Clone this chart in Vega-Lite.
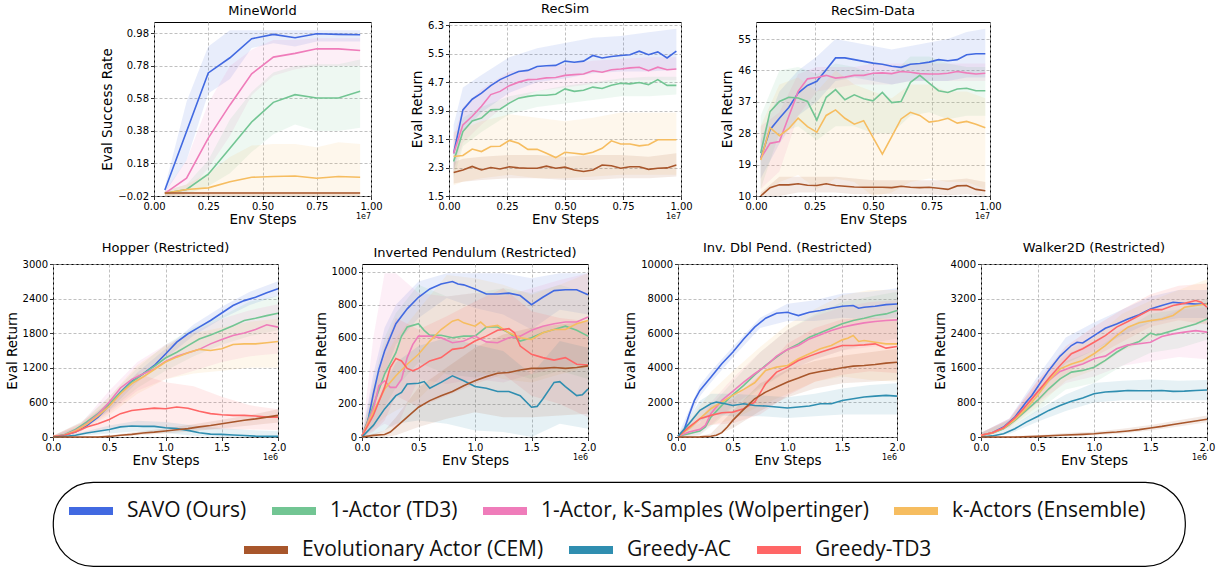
{
"$schema":"https://vega.github.io/schema/vega-lite/v6.json",
"padding":{"left":4,"top":2,"right":5,"bottom":5},
"datasets":{
"mw":[
{"m":"S","x":0.05,"y":0.017},{"m":"S","x":0.15,"y":0.377},{"m":"S","x":0.25,"y":0.737},{"m":"S","x":0.35,"y":0.83},{"m":"S","x":0.45,"y":0.947},{"m":"S","x":0.55,"y":0.974},{"m":"S","x":0.65,"y":0.953},{"m":"S","x":0.75,"y":0.978},{"m":"S","x":0.85,"y":0.974},{"m":"S","x":0.95,"y":0.972},
{"m":"T","x":0.05,"y":-0.004},{"m":"T","x":0.15,"y":0.02},{"m":"T","x":0.25,"y":0.114},{"m":"T","x":0.35,"y":0.274},{"m":"T","x":0.45,"y":0.435},{"m":"T","x":0.55,"y":0.556},{"m":"T","x":0.65,"y":0.603},{"m":"T","x":0.75,"y":0.583},{"m":"T","x":0.85,"y":0.583},{"m":"T","x":0.95,"y":0.624},
{"m":"W","x":0.05,"y":-0.004},{"m":"W","x":0.15,"y":0.09},{"m":"W","x":0.25,"y":0.336},{"m":"W","x":0.35,"y":0.54},{"m":"W","x":0.45,"y":0.731},{"m":"W","x":0.55,"y":0.834},{"m":"W","x":0.65,"y":0.857},{"m":"W","x":0.75,"y":0.885},{"m":"W","x":0.85,"y":0.885},{"m":"W","x":0.95,"y":0.875},
{"m":"E","x":0.05,"y":-0.004},{"m":"E","x":0.15,"y":0.02},{"m":"E","x":0.25,"y":0.03},{"m":"E","x":0.35,"y":0.068},{"m":"E","x":0.45,"y":0.095},{"m":"E","x":0.55,"y":0.1},{"m":"E","x":0.65,"y":0.103},{"m":"E","x":0.75,"y":0.089},{"m":"E","x":0.85,"y":0.1},{"m":"E","x":0.95,"y":0.095},
{"m":"C","x":0.05,"y":-0.002},{"m":"C","x":0.15,"y":-0.002},{"m":"C","x":0.25,"y":-0.002},{"m":"C","x":0.35,"y":-0.002},{"m":"C","x":0.45,"y":-0.002},{"m":"C","x":0.55,"y":-0.002},{"m":"C","x":0.65,"y":-0.002},{"m":"C","x":0.75,"y":-0.002},{"m":"C","x":0.85,"y":-0.002},{"m":"C","x":0.95,"y":-0.002}
],
"mwb":[
{"m":"S","x":0.05,"lo":0.0,"hi":0.035},{"m":"S","x":0.15,"lo":0.2,"hi":0.56},{"m":"S","x":0.25,"lo":0.61,"hi":0.9},{"m":"S","x":0.35,"lo":0.7,"hi":1.0},{"m":"S","x":0.45,"lo":0.89,"hi":1.0},{"m":"S","x":0.55,"lo":0.92,"hi":1.0},{"m":"S","x":0.65,"lo":0.9,"hi":1.0},{"m":"S","x":0.75,"lo":0.93,"hi":1.0},{"m":"S","x":0.85,"lo":0.93,"hi":1.0},{"m":"S","x":0.95,"lo":0.93,"hi":1.0},
{"m":"W","x":0.05,"lo":-0.02,"hi":0.01},{"m":"W","x":0.15,"lo":0.0,"hi":0.2},{"m":"W","x":0.25,"lo":0.15,"hi":0.55},{"m":"W","x":0.35,"lo":0.35,"hi":0.78},{"m":"W","x":0.45,"lo":0.6,"hi":0.88},{"m":"W","x":0.55,"lo":0.72,"hi":0.94},{"m":"W","x":0.65,"lo":0.76,"hi":0.94},{"m":"W","x":0.75,"lo":0.78,"hi":0.95},{"m":"W","x":0.85,"lo":0.78,"hi":0.95},{"m":"W","x":0.95,"lo":0.78,"hi":0.95},
{"m":"T","x":0.05,"lo":-0.02,"hi":0.01},{"m":"T","x":0.15,"lo":-0.01,"hi":0.05},{"m":"T","x":0.25,"lo":0.04,"hi":0.2},{"m":"T","x":0.35,"lo":0.12,"hi":0.45},{"m":"T","x":0.45,"lo":0.25,"hi":0.62},{"m":"T","x":0.55,"lo":0.36,"hi":0.74},{"m":"T","x":0.65,"lo":0.42,"hi":0.78},{"m":"T","x":0.75,"lo":0.38,"hi":0.79},{"m":"T","x":0.85,"lo":0.38,"hi":0.79},{"m":"T","x":0.95,"lo":0.4,"hi":0.82},
{"m":"E","x":0.05,"lo":-0.02,"hi":0.01},{"m":"E","x":0.15,"lo":-0.02,"hi":0.05},{"m":"E","x":0.25,"lo":-0.02,"hi":0.12},{"m":"E","x":0.35,"lo":-0.02,"hi":0.22},{"m":"E","x":0.45,"lo":-0.02,"hi":0.29},{"m":"E","x":0.55,"lo":-0.02,"hi":0.3},{"m":"E","x":0.65,"lo":-0.02,"hi":0.3},{"m":"E","x":0.75,"lo":-0.02,"hi":0.28},{"m":"E","x":0.85,"lo":-0.02,"hi":0.31},{"m":"E","x":0.95,"lo":-0.02,"hi":0.3},
{"m":"C","x":0.05,"lo":-0.02,"hi":0.005},{"m":"C","x":0.95,"lo":-0.02,"hi":0.005}
],
"rs":[
{"m":"S","x":0.02,"y":2.70},{"m":"S","x":0.06,"y":3.92},{"m":"S","x":0.1,"y":4.22},{"m":"S","x":0.14,"y":4.39},{"m":"S","x":0.18,"y":4.60},{"m":"S","x":0.22,"y":4.77},{"m":"S","x":0.26,"y":4.89},{"m":"S","x":0.3,"y":5.00},{"m":"S","x":0.34,"y":5.03},{"m":"S","x":0.38,"y":5.14},{"m":"S","x":0.42,"y":5.16},{"m":"S","x":0.46,"y":5.17},{"m":"S","x":0.5,"y":5.29},{"m":"S","x":0.54,"y":5.26},{"m":"S","x":0.58,"y":5.29},{"m":"S","x":0.62,"y":5.45},{"m":"S","x":0.66,"y":5.38},{"m":"S","x":0.7,"y":5.42},{"m":"S","x":0.74,"y":5.45},{"m":"S","x":0.78,"y":5.47},{"m":"S","x":0.82,"y":5.57},{"m":"S","x":0.86,"y":5.47},{"m":"S","x":0.9,"y":5.55},{"m":"S","x":0.94,"y":5.38},{"m":"S","x":0.98,"y":5.57},
{"m":"W","x":0.02,"y":2.70},{"m":"W","x":0.06,"y":3.50},{"m":"W","x":0.1,"y":3.74},{"m":"W","x":0.14,"y":4.02},{"m":"W","x":0.18,"y":4.35},{"m":"W","x":0.22,"y":4.44},{"m":"W","x":0.26,"y":4.60},{"m":"W","x":0.3,"y":4.70},{"m":"W","x":0.34,"y":4.77},{"m":"W","x":0.38,"y":4.78},{"m":"W","x":0.42,"y":4.82},{"m":"W","x":0.46,"y":4.83},{"m":"W","x":0.5,"y":4.89},{"m":"W","x":0.54,"y":4.91},{"m":"W","x":0.58,"y":4.93},{"m":"W","x":0.62,"y":5.02},{"m":"W","x":0.66,"y":4.98},{"m":"W","x":0.7,"y":5.05},{"m":"W","x":0.74,"y":5.07},{"m":"W","x":0.78,"y":5.10},{"m":"W","x":0.82,"y":5.12},{"m":"W","x":0.86,"y":5.02},{"m":"W","x":0.9,"y":5.12},{"m":"W","x":0.94,"y":5.05},{"m":"W","x":0.98,"y":5.07},
{"m":"T","x":0.02,"y":2.47},{"m":"T","x":0.06,"y":3.31},{"m":"T","x":0.1,"y":3.61},{"m":"T","x":0.14,"y":3.69},{"m":"T","x":0.18,"y":3.92},{"m":"T","x":0.22,"y":3.94},{"m":"T","x":0.26,"y":4.11},{"m":"T","x":0.3,"y":4.25},{"m":"T","x":0.34,"y":4.30},{"m":"T","x":0.38,"y":4.33},{"m":"T","x":0.42,"y":4.33},{"m":"T","x":0.46,"y":4.36},{"m":"T","x":0.5,"y":4.51},{"m":"T","x":0.54,"y":4.44},{"m":"T","x":0.58,"y":4.47},{"m":"T","x":0.62,"y":4.56},{"m":"T","x":0.66,"y":4.52},{"m":"T","x":0.7,"y":4.61},{"m":"T","x":0.74,"y":4.67},{"m":"T","x":0.78,"y":4.65},{"m":"T","x":0.82,"y":4.69},{"m":"T","x":0.86,"y":4.63},{"m":"T","x":0.9,"y":4.77},{"m":"T","x":0.94,"y":4.61},{"m":"T","x":0.98,"y":4.61},
{"m":"E","x":0.02,"y":2.61},{"m":"E","x":0.06,"y":2.64},{"m":"E","x":0.1,"y":2.82},{"m":"E","x":0.14,"y":2.75},{"m":"E","x":0.18,"y":2.89},{"m":"E","x":0.22,"y":2.90},{"m":"E","x":0.26,"y":3.06},{"m":"E","x":0.3,"y":2.98},{"m":"E","x":0.34,"y":2.81},{"m":"E","x":0.38,"y":2.81},{"m":"E","x":0.42,"y":2.70},{"m":"E","x":0.46,"y":2.58},{"m":"E","x":0.5,"y":2.73},{"m":"E","x":0.54,"y":2.70},{"m":"E","x":0.58,"y":2.67},{"m":"E","x":0.62,"y":2.73},{"m":"E","x":0.66,"y":2.84},{"m":"E","x":0.7,"y":3.05},{"m":"E","x":0.74,"y":2.96},{"m":"E","x":0.78,"y":2.96},{"m":"E","x":0.82,"y":2.91},{"m":"E","x":0.86,"y":2.94},{"m":"E","x":0.9,"y":3.08},{"m":"E","x":0.94,"y":3.08},{"m":"E","x":0.98,"y":3.08},
{"m":"C","x":0.02,"y":2.16},{"m":"C","x":0.06,"y":2.23},{"m":"C","x":0.1,"y":2.33},{"m":"C","x":0.14,"y":2.23},{"m":"C","x":0.18,"y":2.30},{"m":"C","x":0.22,"y":2.26},{"m":"C","x":0.26,"y":2.32},{"m":"C","x":0.3,"y":2.29},{"m":"C","x":0.34,"y":2.28},{"m":"C","x":0.38,"y":2.28},{"m":"C","x":0.42,"y":2.34},{"m":"C","x":0.46,"y":2.28},{"m":"C","x":0.5,"y":2.31},{"m":"C","x":0.54,"y":2.23},{"m":"C","x":0.58,"y":2.19},{"m":"C","x":0.62,"y":2.23},{"m":"C","x":0.66,"y":2.37},{"m":"C","x":0.7,"y":2.35},{"m":"C","x":0.74,"y":2.28},{"m":"C","x":0.78,"y":2.32},{"m":"C","x":0.82,"y":2.32},{"m":"C","x":0.86,"y":2.25},{"m":"C","x":0.9,"y":2.28},{"m":"C","x":0.94,"y":2.29},{"m":"C","x":0.98,"y":2.37}
],
"rsb":[
{"m":"S","x":0.02,"lo":2.2,"hi":3.5},{"m":"S","x":0.06,"lo":3.3,"hi":4.55},{"m":"S","x":0.14,"lo":3.85,"hi":4.9},{"m":"S","x":0.26,"lo":4.4,"hi":5.4},{"m":"S","x":0.38,"lo":4.7,"hi":5.65},{"m":"S","x":0.5,"lo":4.8,"hi":5.8},{"m":"S","x":0.62,"lo":4.95,"hi":5.95},{"m":"S","x":0.74,"lo":5.0,"hi":6.0},{"m":"S","x":0.86,"lo":5.0,"hi":6.1},{"m":"S","x":0.98,"lo":5.05,"hi":6.2},
{"m":"W","x":0.02,"lo":2.2,"hi":3.2},{"m":"W","x":0.06,"lo":3.0,"hi":4.0},{"m":"W","x":0.14,"lo":3.5,"hi":4.5},{"m":"W","x":0.26,"lo":4.15,"hi":5.0},{"m":"W","x":0.38,"lo":4.45,"hi":5.1},{"m":"W","x":0.5,"lo":4.55,"hi":5.2},{"m":"W","x":0.62,"lo":4.65,"hi":5.3},{"m":"W","x":0.74,"lo":4.75,"hi":5.35},{"m":"W","x":0.86,"lo":4.75,"hi":5.4},{"m":"W","x":0.98,"lo":4.75,"hi":5.4},
{"m":"T","x":0.02,"lo":2.0,"hi":2.9},{"m":"T","x":0.06,"lo":2.9,"hi":3.7},{"m":"T","x":0.14,"lo":3.3,"hi":4.0},{"m":"T","x":0.26,"lo":3.8,"hi":4.3},{"m":"T","x":0.38,"lo":4.0,"hi":4.45},{"m":"T","x":0.5,"lo":4.1,"hi":4.6},{"m":"T","x":0.62,"lo":4.2,"hi":4.7},{"m":"T","x":0.74,"lo":4.3,"hi":4.8},{"m":"T","x":0.86,"lo":4.3,"hi":4.85},{"m":"T","x":0.98,"lo":4.35,"hi":4.85},
{"m":"E","x":0.02,"lo":1.8,"hi":3.3},{"m":"E","x":0.06,"lo":1.9,"hi":3.4},{"m":"E","x":0.14,"lo":2.0,"hi":3.6},{"m":"E","x":0.26,"lo":2.1,"hi":3.8},{"m":"E","x":0.38,"lo":2.0,"hi":3.7},{"m":"E","x":0.5,"lo":2.0,"hi":3.6},{"m":"E","x":0.62,"lo":2.05,"hi":3.7},{"m":"E","x":0.74,"lo":2.1,"hi":3.85},{"m":"E","x":0.86,"lo":2.1,"hi":3.85},{"m":"E","x":0.98,"lo":2.1,"hi":3.85},
{"m":"C","x":0.02,"lo":1.85,"hi":2.45},{"m":"C","x":0.06,"lo":1.9,"hi":2.55},{"m":"C","x":0.14,"lo":1.95,"hi":2.6},{"m":"C","x":0.26,"lo":2.0,"hi":2.65},{"m":"C","x":0.38,"lo":2.0,"hi":2.65},{"m":"C","x":0.5,"lo":1.95,"hi":2.6},{"m":"C","x":0.62,"lo":1.95,"hi":2.65},{"m":"C","x":0.74,"lo":2.0,"hi":2.65},{"m":"C","x":0.86,"lo":2.0,"hi":2.6},{"m":"C","x":0.98,"lo":2.05,"hi":2.7}
],
"rd":[
{"m":"S","x":0.02,"y":20.8},{"m":"S","x":0.06,"y":29.0},{"m":"S","x":0.1,"y":32.3},{"m":"S","x":0.14,"y":35.4},{"m":"S","x":0.18,"y":39.5},{"m":"S","x":0.22,"y":41.7},{"m":"S","x":0.26,"y":42.9},{"m":"S","x":0.3,"y":46.2},{"m":"S","x":0.34,"y":49.6},{"m":"S","x":0.38,"y":49.6},{"m":"S","x":0.42,"y":49.1},{"m":"S","x":0.46,"y":48.6},{"m":"S","x":0.5,"y":48.1},{"m":"S","x":0.54,"y":47.8},{"m":"S","x":0.58,"y":47.2},{"m":"S","x":0.62,"y":46.9},{"m":"S","x":0.66,"y":47.8},{"m":"S","x":0.7,"y":48.0},{"m":"S","x":0.74,"y":48.4},{"m":"S","x":0.78,"y":49.1},{"m":"S","x":0.82,"y":48.8},{"m":"S","x":0.86,"y":49.1},{"m":"S","x":0.9,"y":50.5},{"m":"S","x":0.94,"y":50.8},{"m":"S","x":0.98,"y":50.8},
{"m":"W","x":0.02,"y":20.8},{"m":"W","x":0.06,"y":25.1},{"m":"W","x":0.1,"y":25.6},{"m":"W","x":0.14,"y":32.8},{"m":"W","x":0.18,"y":40.0},{"m":"W","x":0.22,"y":43.6},{"m":"W","x":0.26,"y":44.0},{"m":"W","x":0.3,"y":44.6},{"m":"W","x":0.34,"y":43.8},{"m":"W","x":0.38,"y":44.1},{"m":"W","x":0.42,"y":44.6},{"m":"W","x":0.46,"y":44.6},{"m":"W","x":0.5,"y":45.2},{"m":"W","x":0.54,"y":45.3},{"m":"W","x":0.58,"y":45.1},{"m":"W","x":0.62,"y":45.7},{"m":"W","x":0.66,"y":45.5},{"m":"W","x":0.7,"y":45.1},{"m":"W","x":0.74,"y":45.0},{"m":"W","x":0.78,"y":45.0},{"m":"W","x":0.82,"y":45.2},{"m":"W","x":0.86,"y":45.7},{"m":"W","x":0.9,"y":45.3},{"m":"W","x":0.94,"y":45.0},{"m":"W","x":0.98,"y":45.2},
{"m":"T","x":0.02,"y":22.3},{"m":"T","x":0.06,"y":34.2},{"m":"T","x":0.1,"y":37.1},{"m":"T","x":0.14,"y":38.3},{"m":"T","x":0.18,"y":38.1},{"m":"T","x":0.22,"y":37.1},{"m":"T","x":0.26,"y":31.8},{"m":"T","x":0.3,"y":38.3},{"m":"T","x":0.34,"y":40.5},{"m":"T","x":0.38,"y":37.6},{"m":"T","x":0.42,"y":39.0},{"m":"T","x":0.46,"y":37.9},{"m":"T","x":0.5,"y":37.3},{"m":"T","x":0.54,"y":39.7},{"m":"T","x":0.58,"y":36.8},{"m":"T","x":0.62,"y":37.1},{"m":"T","x":0.66,"y":42.6},{"m":"T","x":0.7,"y":44.6},{"m":"T","x":0.74,"y":42.4},{"m":"T","x":0.78,"y":40.2},{"m":"T","x":0.82,"y":39.7},{"m":"T","x":0.86,"y":40.7},{"m":"T","x":0.9,"y":40.9},{"m":"T","x":0.94,"y":40.2},{"m":"T","x":0.98,"y":40.2},
{"m":"E","x":0.02,"y":20.3},{"m":"E","x":0.06,"y":29.6},{"m":"E","x":0.1,"y":27.3},{"m":"E","x":0.14,"y":29.3},{"m":"E","x":0.18,"y":32.3},{"m":"E","x":0.22,"y":29.9},{"m":"E","x":0.26,"y":28.3},{"m":"E","x":0.3,"y":33.1},{"m":"E","x":0.34,"y":34.7},{"m":"E","x":0.38,"y":32.3},{"m":"E","x":0.42,"y":30.6},{"m":"E","x":0.46,"y":31.6},{"m":"E","x":0.5,"y":26.8},{"m":"E","x":0.54,"y":22.0},{"m":"E","x":0.58,"y":27.0},{"m":"E","x":0.62,"y":32.1},{"m":"E","x":0.66,"y":34.0},{"m":"E","x":0.7,"y":33.1},{"m":"E","x":0.74,"y":31.2},{"m":"E","x":0.78,"y":31.6},{"m":"E","x":0.82,"y":32.3},{"m":"E","x":0.86,"y":30.9},{"m":"E","x":0.9,"y":31.4},{"m":"E","x":0.94,"y":30.6},{"m":"E","x":0.98,"y":29.6},
{"m":"C","x":0.02,"y":10.0},{"m":"C","x":0.06,"y":12.4},{"m":"C","x":0.1,"y":13.2},{"m":"C","x":0.14,"y":13.2},{"m":"C","x":0.18,"y":13.5},{"m":"C","x":0.22,"y":13.1},{"m":"C","x":0.26,"y":13.0},{"m":"C","x":0.3,"y":13.5},{"m":"C","x":0.34,"y":13.0},{"m":"C","x":0.38,"y":12.8},{"m":"C","x":0.42,"y":12.6},{"m":"C","x":0.46,"y":12.5},{"m":"C","x":0.5,"y":12.5},{"m":"C","x":0.54,"y":12.5},{"m":"C","x":0.58,"y":12.4},{"m":"C","x":0.62,"y":12.8},{"m":"C","x":0.66,"y":12.5},{"m":"C","x":0.7,"y":12.4},{"m":"C","x":0.74,"y":12.5},{"m":"C","x":0.78,"y":12.2},{"m":"C","x":0.82,"y":11.9},{"m":"C","x":0.86,"y":12.9},{"m":"C","x":0.9,"y":13.0},{"m":"C","x":0.94,"y":11.9},{"m":"C","x":0.98,"y":11.5}
],
"rdb":[
{"m":"S","x":0.02,"lo":15,"hi":26},{"m":"S","x":0.1,"lo":25,"hi":40},{"m":"S","x":0.18,"lo":33,"hi":46},{"m":"S","x":0.26,"lo":37,"hi":50},{"m":"S","x":0.34,"lo":43,"hi":55},{"m":"S","x":0.42,"lo":44,"hi":54},{"m":"S","x":0.5,"lo":43,"hi":53},{"m":"S","x":0.58,"lo":42,"hi":52},{"m":"S","x":0.66,"lo":43,"hi":53},{"m":"S","x":0.74,"lo":43,"hi":54},{"m":"S","x":0.82,"lo":43,"hi":55},{"m":"S","x":0.9,"lo":44,"hi":57},{"m":"S","x":0.98,"lo":44,"hi":58},
{"m":"W","x":0.02,"lo":12,"hi":30},{"m":"W","x":0.1,"lo":17,"hi":34},{"m":"W","x":0.18,"lo":33,"hi":45},{"m":"W","x":0.26,"lo":40,"hi":47},{"m":"W","x":0.34,"lo":41,"hi":47},{"m":"W","x":0.42,"lo":42,"hi":47},{"m":"W","x":0.5,"lo":42,"hi":48},{"m":"W","x":0.58,"lo":42,"hi":48},{"m":"W","x":0.66,"lo":43,"hi":48},{"m":"W","x":0.74,"lo":43,"hi":48},{"m":"W","x":0.82,"lo":43,"hi":48},{"m":"W","x":0.9,"lo":43,"hi":48},{"m":"W","x":0.98,"lo":43,"hi":48},
{"m":"T","x":0.02,"lo":12,"hi":33},{"m":"T","x":0.1,"lo":28,"hi":46},{"m":"T","x":0.18,"lo":30,"hi":47},{"m":"T","x":0.26,"lo":26,"hi":45},{"m":"T","x":0.34,"lo":30,"hi":48},{"m":"T","x":0.42,"lo":30,"hi":47},{"m":"T","x":0.5,"lo":28,"hi":45},{"m":"T","x":0.58,"lo":28,"hi":45},{"m":"T","x":0.66,"lo":33,"hi":50},{"m":"T","x":0.74,"lo":34,"hi":50},{"m":"T","x":0.82,"lo":32,"hi":48},{"m":"T","x":0.9,"lo":33,"hi":47},{"m":"T","x":0.98,"lo":33,"hi":47},
{"m":"E","x":0.02,"lo":10,"hi":30},{"m":"E","x":0.1,"lo":14,"hi":42},{"m":"E","x":0.18,"lo":16,"hi":44},{"m":"E","x":0.26,"lo":12,"hi":40},{"m":"E","x":0.34,"lo":15,"hi":46},{"m":"E","x":0.42,"lo":14,"hi":42},{"m":"E","x":0.5,"lo":10,"hi":40},{"m":"E","x":0.58,"lo":11,"hi":38},{"m":"E","x":0.66,"lo":14,"hi":42},{"m":"E","x":0.74,"lo":15,"hi":42},{"m":"E","x":0.82,"lo":14,"hi":40},{"m":"E","x":0.9,"lo":14,"hi":40},{"m":"E","x":0.98,"lo":12,"hi":38},
{"m":"C","x":0.02,"lo":10,"hi":11},{"m":"C","x":0.1,"lo":10,"hi":15.5},{"m":"C","x":0.18,"lo":11,"hi":15.5},{"m":"C","x":0.26,"lo":11,"hi":15.5},{"m":"C","x":0.34,"lo":11,"hi":15.5},{"m":"C","x":0.42,"lo":10.5,"hi":15},{"m":"C","x":0.5,"lo":10.5,"hi":14.5},{"m":"C","x":0.58,"lo":10.5,"hi":14.5},{"m":"C","x":0.66,"lo":10.5,"hi":14.5},{"m":"C","x":0.74,"lo":10.5,"hi":14.5},{"m":"C","x":0.82,"lo":10.2,"hi":14.5},{"m":"C","x":0.9,"lo":10.5,"hi":15},{"m":"C","x":0.98,"lo":10,"hi":14}
],
"hp":[
{"m":"S","x":0,"y":10},{"m":"S","x":0.1,"y":30},{"m":"S","x":0.2,"y":85},{"m":"S","x":0.3,"y":200},{"m":"S","x":0.4,"y":345},{"m":"S","x":0.5,"y":550},{"m":"S","x":0.6,"y":780},{"m":"S","x":0.7,"y":965},{"m":"S","x":0.8,"y":1095},{"m":"S","x":0.9,"y":1240},{"m":"S","x":1.0,"y":1440},{"m":"S","x":1.1,"y":1645},{"m":"S","x":1.2,"y":1790},{"m":"S","x":1.3,"y":1905},{"m":"S","x":1.4,"y":2020},{"m":"S","x":1.5,"y":2150},{"m":"S","x":1.6,"y":2280},{"m":"S","x":1.7,"y":2365},{"m":"S","x":1.8,"y":2425},{"m":"S","x":1.9,"y":2500},{"m":"S","x":2.0,"y":2570},
{"m":"T","x":0,"y":10},{"m":"T","x":0.1,"y":40},{"m":"T","x":0.2,"y":130},{"m":"T","x":0.3,"y":260},{"m":"T","x":0.4,"y":405},{"m":"T","x":0.5,"y":575},{"m":"T","x":0.6,"y":770},{"m":"T","x":0.7,"y":950},{"m":"T","x":0.8,"y":1095},{"m":"T","x":0.9,"y":1225},{"m":"T","x":1.0,"y":1370},{"m":"T","x":1.1,"y":1470},{"m":"T","x":1.2,"y":1585},{"m":"T","x":1.3,"y":1700},{"m":"T","x":1.4,"y":1770},{"m":"T","x":1.5,"y":1845},{"m":"T","x":1.6,"y":1930},{"m":"T","x":1.7,"y":2020},{"m":"T","x":1.8,"y":2060},{"m":"T","x":1.9,"y":2105},{"m":"T","x":2.0,"y":2145},
{"m":"W","x":0,"y":10},{"m":"W","x":0.1,"y":30},{"m":"W","x":0.2,"y":115},{"m":"W","x":0.3,"y":230},{"m":"W","x":0.4,"y":390},{"m":"W","x":0.5,"y":605},{"m":"W","x":0.6,"y":850},{"m":"W","x":0.7,"y":1000},{"m":"W","x":0.8,"y":1095},{"m":"W","x":0.9,"y":1180},{"m":"W","x":1.0,"y":1310},{"m":"W","x":1.1,"y":1400},{"m":"W","x":1.2,"y":1460},{"m":"W","x":1.3,"y":1520},{"m":"W","x":1.4,"y":1615},{"m":"W","x":1.5,"y":1690},{"m":"W","x":1.6,"y":1760},{"m":"W","x":1.7,"y":1805},{"m":"W","x":1.8,"y":1865},{"m":"W","x":1.9,"y":1945},{"m":"W","x":2.0,"y":1905},
{"m":"E","x":0,"y":10},{"m":"E","x":0.1,"y":30},{"m":"E","x":0.2,"y":105},{"m":"E","x":0.3,"y":220},{"m":"E","x":0.4,"y":365},{"m":"E","x":0.5,"y":535},{"m":"E","x":0.6,"y":750},{"m":"E","x":0.7,"y":925},{"m":"E","x":0.8,"y":1040},{"m":"E","x":0.9,"y":1170},{"m":"E","x":1.0,"y":1300},{"m":"E","x":1.1,"y":1385},{"m":"E","x":1.2,"y":1460},{"m":"E","x":1.3,"y":1520},{"m":"E","x":1.4,"y":1500},{"m":"E","x":1.5,"y":1530},{"m":"E","x":1.6,"y":1605},{"m":"E","x":1.7,"y":1615},{"m":"E","x":1.8,"y":1615},{"m":"E","x":1.9,"y":1635},{"m":"E","x":2.0,"y":1655},
{"m":"G","x":0,"y":10},{"m":"G","x":0.1,"y":30},{"m":"G","x":0.2,"y":85},{"m":"G","x":0.3,"y":175},{"m":"G","x":0.4,"y":230},{"m":"G","x":0.5,"y":305},{"m":"G","x":0.6,"y":405},{"m":"G","x":0.7,"y":460},{"m":"G","x":0.8,"y":480},{"m":"G","x":0.9,"y":500},{"m":"G","x":1.0,"y":490},{"m":"G","x":1.1,"y":520},{"m":"G","x":1.2,"y":500},{"m":"G","x":1.3,"y":445},{"m":"G","x":1.4,"y":405},{"m":"G","x":1.5,"y":385},{"m":"G","x":1.6,"y":375},{"m":"G","x":1.7,"y":375},{"m":"G","x":1.8,"y":365},{"m":"G","x":1.9,"y":345},{"m":"G","x":2.0,"y":345},
{"m":"A","x":0,"y":0},{"m":"A","x":0.1,"y":10},{"m":"A","x":0.2,"y":30},{"m":"A","x":0.3,"y":70},{"m":"A","x":0.4,"y":100},{"m":"A","x":0.5,"y":130},{"m":"A","x":0.6,"y":175},{"m":"A","x":0.7,"y":190},{"m":"A","x":0.8,"y":185},{"m":"A","x":0.9,"y":185},{"m":"A","x":1.0,"y":160},{"m":"A","x":1.1,"y":145},{"m":"A","x":1.2,"y":115},{"m":"A","x":1.3,"y":75},{"m":"A","x":1.4,"y":50},{"m":"A","x":1.5,"y":45},{"m":"A","x":1.6,"y":35},{"m":"A","x":1.7,"y":25},{"m":"A","x":1.8,"y":15},{"m":"A","x":1.9,"y":10},{"m":"A","x":2.0,"y":10},
{"m":"C","x":0,"y":0},{"m":"C","x":0.4,"y":0},{"m":"C","x":0.5,"y":10},{"m":"C","x":0.6,"y":30},{"m":"C","x":0.7,"y":45},{"m":"C","x":0.8,"y":70},{"m":"C","x":0.9,"y":85},{"m":"C","x":1.0,"y":105},{"m":"C","x":1.1,"y":125},{"m":"C","x":1.2,"y":145},{"m":"C","x":1.3,"y":175},{"m":"C","x":1.4,"y":200},{"m":"C","x":1.5,"y":230},{"m":"C","x":1.6,"y":260},{"m":"C","x":1.7,"y":290},{"m":"C","x":1.8,"y":315},{"m":"C","x":1.9,"y":345},{"m":"C","x":2.0,"y":375}
],
"hpb":[
{"m":"S","x":0,"lo":0,"hi":20},{"m":"S","x":0.25,"lo":100,"hi":190},{"m":"S","x":0.5,"lo":470,"hi":620},{"m":"S","x":0.75,"lo":950,"hi":1120},{"m":"S","x":1.0,"lo":1360,"hi":1530},{"m":"S","x":1.25,"lo":1760,"hi":1950},{"m":"S","x":1.5,"lo":2050,"hi":2260},{"m":"S","x":1.75,"lo":2290,"hi":2520},{"m":"S","x":2.0,"lo":2450,"hi":2700},
{"m":"T","x":0,"lo":0,"hi":20},{"m":"T","x":0.25,"lo":130,"hi":260},{"m":"T","x":0.5,"lo":450,"hi":700},{"m":"T","x":0.75,"lo":850,"hi":1200},{"m":"T","x":1.0,"lo":1150,"hi":1600},{"m":"T","x":1.25,"lo":1400,"hi":1900},{"m":"T","x":1.5,"lo":1600,"hi":2100},{"m":"T","x":1.75,"lo":1750,"hi":2350},{"m":"T","x":2.0,"lo":1850,"hi":2450},
{"m":"W","x":0,"lo":0,"hi":20},{"m":"W","x":0.25,"lo":110,"hi":240},{"m":"W","x":0.5,"lo":420,"hi":800},{"m":"W","x":0.75,"lo":800,"hi":1300},{"m":"W","x":1.0,"lo":1000,"hi":1600},{"m":"W","x":1.25,"lo":1150,"hi":1830},{"m":"W","x":1.5,"lo":1300,"hi":2050},{"m":"W","x":1.75,"lo":1400,"hi":2200},{"m":"W","x":2.0,"lo":1450,"hi":2300},
{"m":"E","x":0,"lo":0,"hi":20},{"m":"E","x":0.25,"lo":100,"hi":230},{"m":"E","x":0.5,"lo":380,"hi":700},{"m":"E","x":0.75,"lo":750,"hi":1250},{"m":"E","x":1.0,"lo":1000,"hi":1580},{"m":"E","x":1.25,"lo":1100,"hi":1800},{"m":"E","x":1.5,"lo":1150,"hi":1900},{"m":"E","x":1.75,"lo":1200,"hi":2000},{"m":"E","x":2.0,"lo":1200,"hi":2050},
{"m":"G","x":0,"lo":0,"hi":20},{"m":"G","x":0.25,"lo":60,"hi":250},{"m":"G","x":0.5,"lo":150,"hi":600},{"m":"G","x":0.75,"lo":200,"hi":1100},{"m":"G","x":1.0,"lo":150,"hi":950},{"m":"G","x":1.25,"lo":130,"hi":880},{"m":"G","x":1.5,"lo":130,"hi":700},{"m":"G","x":1.75,"lo":130,"hi":550},{"m":"G","x":2.0,"lo":120,"hi":480},
{"m":"A","x":0,"lo":0,"hi":10},{"m":"A","x":0.25,"lo":20,"hi":80},{"m":"A","x":0.5,"lo":60,"hi":200},{"m":"A","x":0.75,"lo":100,"hi":280},{"m":"A","x":1.0,"lo":70,"hi":260},{"m":"A","x":1.25,"lo":20,"hi":200},{"m":"A","x":1.5,"lo":0,"hi":150},{"m":"A","x":1.75,"lo":0,"hi":120},{"m":"A","x":2.0,"lo":0,"hi":100},
{"m":"C","x":0,"lo":0,"hi":5},{"m":"C","x":0.25,"lo":0,"hi":5},{"m":"C","x":0.5,"lo":0,"hi":25},{"m":"C","x":0.75,"lo":30,"hi":90},{"m":"C","x":1.0,"lo":60,"hi":150},{"m":"C","x":1.25,"lo":100,"hi":220},{"m":"C","x":1.5,"lo":150,"hi":300},{"m":"C","x":1.75,"lo":200,"hi":380},{"m":"C","x":2.0,"lo":250,"hi":480}
],
"ip":[
{"m":"S","x":0,"y":5},{"m":"S","x":0.05,"y":90},{"m":"S","x":0.1,"y":260},{"m":"S","x":0.15,"y":410},{"m":"S","x":0.2,"y":520},{"m":"S","x":0.3,"y":685},{"m":"S","x":0.4,"y":775},{"m":"S","x":0.5,"y":845},{"m":"S","x":0.6,"y":895},{"m":"S","x":0.7,"y":925},{"m":"S","x":0.8,"y":940},{"m":"S","x":0.85,"y":925},{"m":"S","x":0.9,"y":920},{"m":"S","x":1.0,"y":895},{"m":"S","x":1.1,"y":865},{"m":"S","x":1.2,"y":865},{"m":"S","x":1.3,"y":870},{"m":"S","x":1.4,"y":855},{"m":"S","x":1.5,"y":800},{"m":"S","x":1.6,"y":845},{"m":"S","x":1.7,"y":885},{"m":"S","x":1.8,"y":890},{"m":"S","x":1.9,"y":890},{"m":"S","x":2.0,"y":860},
{"m":"T","x":0,"y":5},{"m":"T","x":0.1,"y":190},{"m":"T","x":0.2,"y":380},{"m":"T","x":0.3,"y":510},{"m":"T","x":0.35,"y":610},{"m":"T","x":0.4,"y":665},{"m":"T","x":0.45,"y":675},{"m":"T","x":0.5,"y":685},{"m":"T","x":0.55,"y":645},{"m":"T","x":0.6,"y":615},{"m":"T","x":0.7,"y":615},{"m":"T","x":0.8,"y":600},{"m":"T","x":0.9,"y":610},{"m":"T","x":1.0,"y":610},{"m":"T","x":1.1,"y":665},{"m":"T","x":1.2,"y":665},{"m":"T","x":1.3,"y":630},{"m":"T","x":1.4,"y":580},{"m":"T","x":1.5,"y":600},{"m":"T","x":1.6,"y":630},{"m":"T","x":1.7,"y":650},{"m":"T","x":1.8,"y":670},{"m":"T","x":1.9,"y":645},{"m":"T","x":2.0,"y":610},
{"m":"W","x":0,"y":5},{"m":"W","x":0.1,"y":170},{"m":"W","x":0.15,"y":310},{"m":"W","x":0.2,"y":340},{"m":"W","x":0.25,"y":300},{"m":"W","x":0.3,"y":300},{"m":"W","x":0.35,"y":350},{"m":"W","x":0.4,"y":480},{"m":"W","x":0.45,"y":560},{"m":"W","x":0.5,"y":610},{"m":"W","x":0.6,"y":610},{"m":"W","x":0.7,"y":600},{"m":"W","x":0.8,"y":570},{"m":"W","x":0.9,"y":580},{"m":"W","x":1.0,"y":610},{"m":"W","x":1.1,"y":575},{"m":"W","x":1.2,"y":570},{"m":"W","x":1.3,"y":600},{"m":"W","x":1.4,"y":610},{"m":"W","x":1.5,"y":645},{"m":"W","x":1.6,"y":670},{"m":"W","x":1.7,"y":685},{"m":"W","x":1.8,"y":695},{"m":"W","x":1.9,"y":695},{"m":"W","x":2.0,"y":725},
{"m":"E","x":0,"y":5},{"m":"E","x":0.1,"y":150},{"m":"E","x":0.2,"y":290},{"m":"E","x":0.3,"y":370},{"m":"E","x":0.4,"y":440},{"m":"E","x":0.5,"y":500},{"m":"E","x":0.6,"y":580},{"m":"E","x":0.7,"y":650},{"m":"E","x":0.8,"y":700},{"m":"E","x":0.85,"y":710},{"m":"E","x":0.9,"y":690},{"m":"E","x":1.0,"y":670},{"m":"E","x":1.05,"y":695},{"m":"E","x":1.1,"y":665},{"m":"E","x":1.2,"y":675},{"m":"E","x":1.3,"y":630},{"m":"E","x":1.4,"y":600},{"m":"E","x":1.5,"y":590},{"m":"E","x":1.6,"y":630},{"m":"E","x":1.7,"y":650},{"m":"E","x":1.8,"y":650},{"m":"E","x":1.9,"y":685},{"m":"E","x":2.0,"y":705},
{"m":"G","x":0,"y":5},{"m":"G","x":0.1,"y":130},{"m":"G","x":0.2,"y":300},{"m":"G","x":0.25,"y":420},{"m":"G","x":0.3,"y":475},{"m":"G","x":0.35,"y":460},{"m":"G","x":0.4,"y":415},{"m":"G","x":0.45,"y":400},{"m":"G","x":0.5,"y":415},{"m":"G","x":0.6,"y":460},{"m":"G","x":0.7,"y":480},{"m":"G","x":0.8,"y":530},{"m":"G","x":0.9,"y":540},{"m":"G","x":1.0,"y":580},{"m":"G","x":1.1,"y":610},{"m":"G","x":1.2,"y":645},{"m":"G","x":1.3,"y":655},{"m":"G","x":1.35,"y":630},{"m":"G","x":1.4,"y":550},{"m":"G","x":1.5,"y":500},{"m":"G","x":1.6,"y":480},{"m":"G","x":1.7,"y":465},{"m":"G","x":1.8,"y":480},{"m":"G","x":1.9,"y":440},{"m":"G","x":2.0,"y":435},
{"m":"A","x":0,"y":0},{"m":"A","x":0.1,"y":70},{"m":"A","x":0.2,"y":170},{"m":"A","x":0.3,"y":250},{"m":"A","x":0.35,"y":270},{"m":"A","x":0.4,"y":320},{"m":"A","x":0.5,"y":325},{"m":"A","x":0.55,"y":335},{"m":"A","x":0.6,"y":295},{"m":"A","x":0.7,"y":330},{"m":"A","x":0.8,"y":370},{"m":"A","x":0.9,"y":340},{"m":"A","x":1.0,"y":305},{"m":"A","x":1.1,"y":295},{"m":"A","x":1.2,"y":275},{"m":"A","x":1.3,"y":275},{"m":"A","x":1.4,"y":250},{"m":"A","x":1.5,"y":180},{"m":"A","x":1.55,"y":185},{"m":"A","x":1.6,"y":230},{"m":"A","x":1.7,"y":330},{"m":"A","x":1.75,"y":335},{"m":"A","x":1.8,"y":305},{"m":"A","x":1.9,"y":250},{"m":"A","x":1.95,"y":255},{"m":"A","x":2.0,"y":290},
{"m":"C","x":0,"y":0},{"m":"C","x":0.1,"y":10},{"m":"C","x":0.2,"y":15},{"m":"C","x":0.25,"y":30},{"m":"C","x":0.3,"y":60},{"m":"C","x":0.4,"y":120},{"m":"C","x":0.5,"y":180},{"m":"C","x":0.6,"y":220},{"m":"C","x":0.7,"y":250},{"m":"C","x":0.8,"y":275},{"m":"C","x":0.9,"y":310},{"m":"C","x":1.0,"y":340},{"m":"C","x":1.1,"y":365},{"m":"C","x":1.2,"y":385},{"m":"C","x":1.3,"y":390},{"m":"C","x":1.4,"y":405},{"m":"C","x":1.5,"y":415},{"m":"C","x":1.6,"y":415},{"m":"C","x":1.7,"y":420},{"m":"C","x":1.8,"y":415},{"m":"C","x":1.9,"y":420},{"m":"C","x":2.0,"y":430}
],
"ipb":[
{"m":"S","x":0,"lo":0,"hi":10},{"m":"S","x":0.1,"lo":150,"hi":380},{"m":"S","x":0.2,"lo":380,"hi":660},{"m":"S","x":0.3,"lo":560,"hi":800},{"m":"S","x":0.5,"lo":720,"hi":940},{"m":"S","x":0.75,"lo":840,"hi":990},{"m":"S","x":1.0,"lo":780,"hi":990},{"m":"S","x":1.25,"lo":740,"hi":990},{"m":"S","x":1.5,"lo":650,"hi":960},{"m":"S","x":1.75,"lo":770,"hi":990},{"m":"S","x":2.0,"lo":740,"hi":990},
{"m":"T","x":0,"lo":0,"hi":10},{"m":"T","x":0.1,"lo":60,"hi":330},{"m":"T","x":0.2,"lo":180,"hi":600},{"m":"T","x":0.3,"lo":300,"hi":750},{"m":"T","x":0.5,"lo":450,"hi":920},{"m":"T","x":0.75,"lo":380,"hi":850},{"m":"T","x":1.0,"lo":360,"hi":870},{"m":"T","x":1.25,"lo":400,"hi":900},{"m":"T","x":1.5,"lo":350,"hi":870},{"m":"T","x":1.75,"lo":400,"hi":920},{"m":"T","x":2.0,"lo":350,"hi":870},
{"m":"W","x":0,"lo":0,"hi":10},{"m":"W","x":0.1,"lo":40,"hi":600},{"m":"W","x":0.2,"lo":80,"hi":990},{"m":"W","x":0.3,"lo":50,"hi":990},{"m":"W","x":0.5,"lo":350,"hi":870},{"m":"W","x":0.75,"lo":320,"hi":850},{"m":"W","x":1.0,"lo":350,"hi":870},{"m":"W","x":1.25,"lo":330,"hi":850},{"m":"W","x":1.5,"lo":380,"hi":900},{"m":"W","x":1.75,"lo":420,"hi":950},{"m":"W","x":2.0,"lo":450,"hi":990},
{"m":"E","x":0,"lo":0,"hi":10},{"m":"E","x":0.1,"lo":50,"hi":300},{"m":"E","x":0.2,"lo":120,"hi":480},{"m":"E","x":0.3,"lo":160,"hi":600},{"m":"E","x":0.5,"lo":230,"hi":770},{"m":"E","x":0.75,"lo":400,"hi":980},{"m":"E","x":1.0,"lo":400,"hi":960},{"m":"E","x":1.25,"lo":350,"hi":920},{"m":"E","x":1.5,"lo":330,"hi":860},{"m":"E","x":1.75,"lo":380,"hi":920},{"m":"E","x":2.0,"lo":420,"hi":990},
{"m":"G","x":0,"lo":0,"hi":10},{"m":"G","x":0.1,"lo":30,"hi":250},{"m":"G","x":0.2,"lo":100,"hi":550},{"m":"G","x":0.3,"lo":250,"hi":720},{"m":"G","x":0.5,"lo":180,"hi":650},{"m":"G","x":0.75,"lo":250,"hi":730},{"m":"G","x":1.0,"lo":320,"hi":820},{"m":"G","x":1.25,"lo":380,"hi":900},{"m":"G","x":1.5,"lo":250,"hi":760},{"m":"G","x":1.75,"lo":200,"hi":720},{"m":"G","x":2.0,"lo":120,"hi":700},
{"m":"A","x":0,"lo":0,"hi":10},{"m":"A","x":0.1,"lo":10,"hi":150},{"m":"A","x":0.2,"lo":40,"hi":320},{"m":"A","x":0.3,"lo":80,"hi":450},{"m":"A","x":0.5,"lo":100,"hi":550},{"m":"A","x":0.75,"lo":80,"hi":600},{"m":"A","x":1.0,"lo":40,"hi":560},{"m":"A","x":1.25,"lo":30,"hi":520},{"m":"A","x":1.5,"lo":0,"hi":380},{"m":"A","x":1.75,"lo":80,"hi":580},{"m":"A","x":2.0,"lo":50,"hi":540},
{"m":"C","x":0,"lo":0,"hi":10},{"m":"C","x":0.1,"lo":0,"hi":20},{"m":"C","x":0.2,"lo":0,"hi":40},{"m":"C","x":0.3,"lo":10,"hi":120},{"m":"C","x":0.5,"lo":60,"hi":300},{"m":"C","x":0.75,"lo":110,"hi":420},{"m":"C","x":1.0,"lo":150,"hi":540},{"m":"C","x":1.25,"lo":120,"hi":620},{"m":"C","x":1.5,"lo":120,"hi":660},{"m":"C","x":1.75,"lo":130,"hi":680},{"m":"C","x":2.0,"lo":140,"hi":700}
],
"id":[
{"m":"S","x":0,"y":40},{"m":"S","x":0.05,"y":290},{"m":"S","x":0.1,"y":1250},{"m":"S","x":0.15,"y":2115},{"m":"S","x":0.2,"y":2690},{"m":"S","x":0.3,"y":3460},{"m":"S","x":0.4,"y":4230},{"m":"S","x":0.5,"y":4900},{"m":"S","x":0.6,"y":5670},{"m":"S","x":0.7,"y":6350},{"m":"S","x":0.8,"y":6865},{"m":"S","x":0.9,"y":7155},{"m":"S","x":1.0,"y":7210},{"m":"S","x":1.05,"y":7115},{"m":"S","x":1.1,"y":7020},{"m":"S","x":1.2,"y":7210},{"m":"S","x":1.3,"y":7310},{"m":"S","x":1.4,"y":7440},{"m":"S","x":1.5,"y":7560},{"m":"S","x":1.6,"y":7600},{"m":"S","x":1.65,"y":7440},{"m":"S","x":1.7,"y":7500},{"m":"S","x":1.8,"y":7560},{"m":"S","x":1.9,"y":7650},{"m":"S","x":2.0,"y":7690},
{"m":"T","x":0,"y":40},{"m":"T","x":0.1,"y":190},{"m":"T","x":0.2,"y":345},{"m":"T","x":0.25,"y":575},{"m":"T","x":0.3,"y":1150},{"m":"T","x":0.4,"y":1825},{"m":"T","x":0.5,"y":2440},{"m":"T","x":0.6,"y":2980},{"m":"T","x":0.7,"y":3595},{"m":"T","x":0.8,"y":4135},{"m":"T","x":0.9,"y":4615},{"m":"T","x":1.0,"y":5060},{"m":"T","x":1.1,"y":5385},{"m":"T","x":1.2,"y":5770},{"m":"T","x":1.3,"y":6020},{"m":"T","x":1.4,"y":6290},{"m":"T","x":1.5,"y":6540},{"m":"T","x":1.6,"y":6730},{"m":"T","x":1.7,"y":6865},{"m":"T","x":1.8,"y":7020},{"m":"T","x":1.9,"y":7115},{"m":"T","x":2.0,"y":7310},
{"m":"W","x":0,"y":40},{"m":"W","x":0.1,"y":290},{"m":"W","x":0.2,"y":440},{"m":"W","x":0.25,"y":670},{"m":"W","x":0.3,"y":1345},{"m":"W","x":0.4,"y":2115},{"m":"W","x":0.5,"y":2635},{"m":"W","x":0.6,"y":3175},{"m":"W","x":0.7,"y":3655},{"m":"W","x":0.8,"y":4095},{"m":"W","x":0.9,"y":4675},{"m":"W","x":1.0,"y":5060},{"m":"W","x":1.1,"y":5290},{"m":"W","x":1.2,"y":5670},{"m":"W","x":1.3,"y":5905},{"m":"W","x":1.4,"y":6155},{"m":"W","x":1.5,"y":6345},{"m":"W","x":1.6,"y":6480},{"m":"W","x":1.7,"y":6595},{"m":"W","x":1.8,"y":6675},{"m":"W","x":1.9,"y":6730},{"m":"W","x":2.0,"y":6770},
{"m":"E","x":0,"y":40},{"m":"E","x":0.1,"y":480},{"m":"E","x":0.2,"y":1060},{"m":"E","x":0.3,"y":1635},{"m":"E","x":0.4,"y":2020},{"m":"E","x":0.5,"y":2405},{"m":"E","x":0.6,"y":2750},{"m":"E","x":0.7,"y":3135},{"m":"E","x":0.8,"y":3845},{"m":"E","x":0.9,"y":4040},{"m":"E","x":1.0,"y":4135},{"m":"E","x":1.1,"y":4520},{"m":"E","x":1.2,"y":4810},{"m":"E","x":1.3,"y":5095},{"m":"E","x":1.4,"y":5290},{"m":"E","x":1.5,"y":5615},{"m":"E","x":1.55,"y":5710},{"m":"E","x":1.6,"y":5865},{"m":"E","x":1.65,"y":5520},{"m":"E","x":1.7,"y":5575},{"m":"E","x":1.8,"y":5480},{"m":"E","x":1.9,"y":5385},{"m":"E","x":2.0,"y":5385},
{"m":"G","x":0,"y":40},{"m":"G","x":0.1,"y":575},{"m":"G","x":0.2,"y":1060},{"m":"G","x":0.3,"y":1250},{"m":"G","x":0.4,"y":1405},{"m":"G","x":0.5,"y":1440},{"m":"G","x":0.6,"y":1635},{"m":"G","x":0.7,"y":2020},{"m":"G","x":0.8,"y":3075},{"m":"G","x":0.9,"y":3750},{"m":"G","x":1.0,"y":4040},{"m":"G","x":1.1,"y":4420},{"m":"G","x":1.2,"y":4675},{"m":"G","x":1.3,"y":4905},{"m":"G","x":1.4,"y":5095},{"m":"G","x":1.5,"y":5290},{"m":"G","x":1.6,"y":5290},{"m":"G","x":1.7,"y":5325},{"m":"G","x":1.8,"y":5385},{"m":"G","x":1.9,"y":5135},{"m":"G","x":2.0,"y":5230},
{"m":"A","x":0,"y":40},{"m":"A","x":0.1,"y":770},{"m":"A","x":0.2,"y":1540},{"m":"A","x":0.3,"y":1925},{"m":"A","x":0.35,"y":2020},{"m":"A","x":0.4,"y":1960},{"m":"A","x":0.5,"y":1825},{"m":"A","x":0.6,"y":1925},{"m":"A","x":0.7,"y":1825},{"m":"A","x":0.8,"y":1790},{"m":"A","x":0.9,"y":1730},{"m":"A","x":1.0,"y":1675},{"m":"A","x":1.1,"y":1730},{"m":"A","x":1.2,"y":1790},{"m":"A","x":1.3,"y":1925},{"m":"A","x":1.4,"y":1925},{"m":"A","x":1.5,"y":2115},{"m":"A","x":1.6,"y":2210},{"m":"A","x":1.7,"y":2310},{"m":"A","x":1.8,"y":2365},{"m":"A","x":1.9,"y":2405},{"m":"A","x":2.0,"y":2365},
{"m":"C","x":0,"y":0},{"m":"C","x":0.2,"y":10},{"m":"C","x":0.3,"y":40},{"m":"C","x":0.35,"y":100},{"m":"C","x":0.4,"y":250},{"m":"C","x":0.45,"y":575},{"m":"C","x":0.5,"y":960},{"m":"C","x":0.6,"y":1595},{"m":"C","x":0.7,"y":2210},{"m":"C","x":0.8,"y":2595},{"m":"C","x":0.9,"y":2885},{"m":"C","x":1.0,"y":3175},{"m":"C","x":1.1,"y":3405},{"m":"C","x":1.2,"y":3655},{"m":"C","x":1.3,"y":3790},{"m":"C","x":1.4,"y":3885},{"m":"C","x":1.5,"y":4000},{"m":"C","x":1.6,"y":4095},{"m":"C","x":1.7,"y":4135},{"m":"C","x":1.8,"y":4190},{"m":"C","x":1.9,"y":4270},{"m":"C","x":2.0,"y":4325}
],
"idb":[
{"m":"S","x":0,"lo":0,"hi":100},{"m":"S","x":0.1,"lo":950,"hi":1550},{"m":"S","x":0.2,"lo":2350,"hi":3000},{"m":"S","x":0.3,"lo":3150,"hi":3800},{"m":"S","x":0.5,"lo":4600,"hi":5200},{"m":"S","x":0.75,"lo":6300,"hi":6900},{"m":"S","x":1.0,"lo":6700,"hi":7700},{"m":"S","x":1.25,"lo":6700,"hi":7900},{"m":"S","x":1.5,"lo":6900,"hi":8300},{"m":"S","x":1.75,"lo":6800,"hi":8400},{"m":"S","x":2.0,"lo":6900,"hi":8600},
{"m":"T","x":0,"lo":0,"hi":100},{"m":"T","x":0.1,"lo":0,"hi":500},{"m":"T","x":0.2,"lo":100,"hi":800},{"m":"T","x":0.3,"lo":600,"hi":1800},{"m":"T","x":0.5,"lo":1700,"hi":3200},{"m":"T","x":0.75,"lo":2800,"hi":4900},{"m":"T","x":1.0,"lo":3800,"hi":6200},{"m":"T","x":1.25,"lo":4500,"hi":7100},{"m":"T","x":1.5,"lo":5000,"hi":7800},{"m":"T","x":1.75,"lo":5400,"hi":8100},{"m":"T","x":2.0,"lo":5700,"hi":8400},
{"m":"W","x":0,"lo":0,"hi":100},{"m":"W","x":0.1,"lo":50,"hi":600},{"m":"W","x":0.2,"lo":150,"hi":900},{"m":"W","x":0.3,"lo":700,"hi":2000},{"m":"W","x":0.5,"lo":1800,"hi":3400},{"m":"W","x":0.75,"lo":2900,"hi":4900},{"m":"W","x":1.0,"lo":3800,"hi":6200},{"m":"W","x":1.25,"lo":4500,"hi":7000},{"m":"W","x":1.5,"lo":5000,"hi":7500},{"m":"W","x":1.75,"lo":5200,"hi":7800},{"m":"W","x":2.0,"lo":5300,"hi":7900},
{"m":"E","x":0,"lo":0,"hi":100},{"m":"E","x":0.1,"lo":100,"hi":900},{"m":"E","x":0.2,"lo":400,"hi":1800},{"m":"E","x":0.3,"lo":700,"hi":2600},{"m":"E","x":0.5,"lo":1000,"hi":3800},{"m":"E","x":0.75,"lo":1800,"hi":5200},{"m":"E","x":1.0,"lo":2500,"hi":6500},{"m":"E","x":1.25,"lo":3200,"hi":7400},{"m":"E","x":1.5,"lo":3500,"hi":8200},{"m":"E","x":1.75,"lo":3300,"hi":8500},{"m":"E","x":2.0,"lo":3200,"hi":8500},
{"m":"G","x":0,"lo":0,"hi":100},{"m":"G","x":0.1,"lo":200,"hi":900},{"m":"G","x":0.2,"lo":500,"hi":1600},{"m":"G","x":0.3,"lo":700,"hi":1800},{"m":"G","x":0.5,"lo":800,"hi":2200},{"m":"G","x":0.75,"lo":1300,"hi":3600},{"m":"G","x":1.0,"lo":2400,"hi":5400},{"m":"G","x":1.25,"lo":3200,"hi":6300},{"m":"G","x":1.5,"lo":3600,"hi":6800},{"m":"G","x":1.75,"lo":3800,"hi":6900},{"m":"G","x":2.0,"lo":3700,"hi":6800},
{"m":"A","x":0,"lo":0,"hi":100},{"m":"A","x":0.1,"lo":400,"hi":1100},{"m":"A","x":0.2,"lo":900,"hi":2100},{"m":"A","x":0.3,"lo":1300,"hi":2500},{"m":"A","x":0.5,"lo":1200,"hi":2500},{"m":"A","x":0.75,"lo":1200,"hi":2400},{"m":"A","x":1.0,"lo":1100,"hi":2300},{"m":"A","x":1.25,"lo":1200,"hi":2500},{"m":"A","x":1.5,"lo":1300,"hi":2800},{"m":"A","x":1.75,"lo":1300,"hi":3000},{"m":"A","x":2.0,"lo":1300,"hi":3100},
{"m":"C","x":0,"lo":0,"hi":50},{"m":"C","x":0.1,"lo":0,"hi":50},{"m":"C","x":0.2,"lo":0,"hi":50},{"m":"C","x":0.3,"lo":0,"hi":200},{"m":"C","x":0.5,"lo":500,"hi":1500},{"m":"C","x":0.75,"lo":1500,"hi":3100},{"m":"C","x":1.0,"lo":2300,"hi":3900},{"m":"C","x":1.25,"lo":2800,"hi":4400},{"m":"C","x":1.5,"lo":3100,"hi":4700},{"m":"C","x":1.75,"lo":3200,"hi":4900},{"m":"C","x":2.0,"lo":3300,"hi":5100}
],
"wk":[
{"m":"S","x":0,"y":40},{"m":"S","x":0.1,"y":100},{"m":"S","x":0.2,"y":230},{"m":"S","x":0.3,"y":460},{"m":"S","x":0.4,"y":810},{"m":"S","x":0.45,"y":960},{"m":"S","x":0.5,"y":1155},{"m":"S","x":0.6,"y":1540},{"m":"S","x":0.7,"y":1870},{"m":"S","x":0.8,"y":2115},{"m":"S","x":0.85,"y":2190},{"m":"S","x":0.9,"y":2175},{"m":"S","x":1.0,"y":2345},{"m":"S","x":1.1,"y":2515},{"m":"S","x":1.2,"y":2615},{"m":"S","x":1.3,"y":2730},{"m":"S","x":1.4,"y":2825},{"m":"S","x":1.5,"y":2960},{"m":"S","x":1.6,"y":3040},{"m":"S","x":1.7,"y":3115},{"m":"S","x":1.8,"y":3090},{"m":"S","x":1.9,"y":3075},{"m":"S","x":2.0,"y":3075},
{"m":"T","x":0,"y":40},{"m":"T","x":0.1,"y":90},{"m":"T","x":0.2,"y":190},{"m":"T","x":0.3,"y":385},{"m":"T","x":0.4,"y":615},{"m":"T","x":0.5,"y":845},{"m":"T","x":0.6,"y":1115},{"m":"T","x":0.7,"y":1345},{"m":"T","x":0.8,"y":1500},{"m":"T","x":0.9,"y":1540},{"m":"T","x":1.0,"y":1615},{"m":"T","x":1.1,"y":1770},{"m":"T","x":1.2,"y":1960},{"m":"T","x":1.3,"y":2115},{"m":"T","x":1.4,"y":2210},{"m":"T","x":1.5,"y":2400},{"m":"T","x":1.55,"y":2360},{"m":"T","x":1.6,"y":2385},{"m":"T","x":1.7,"y":2460},{"m":"T","x":1.8,"y":2540},{"m":"T","x":1.9,"y":2615},{"m":"T","x":2.0,"y":2730},
{"m":"W","x":0,"y":40},{"m":"W","x":0.1,"y":95},{"m":"W","x":0.2,"y":210},{"m":"W","x":0.3,"y":425},{"m":"W","x":0.4,"y":730},{"m":"W","x":0.5,"y":1040},{"m":"W","x":0.6,"y":1310},{"m":"W","x":0.7,"y":1515},{"m":"W","x":0.8,"y":1615},{"m":"W","x":0.9,"y":1690},{"m":"W","x":1.0,"y":1810},{"m":"W","x":1.05,"y":1845},{"m":"W","x":1.1,"y":1870},{"m":"W","x":1.2,"y":2040},{"m":"W","x":1.3,"y":2130},{"m":"W","x":1.4,"y":2155},{"m":"W","x":1.5,"y":2190},{"m":"W","x":1.6,"y":2325},{"m":"W","x":1.7,"y":2385},{"m":"W","x":1.8,"y":2425},{"m":"W","x":1.9,"y":2460},{"m":"W","x":2.0,"y":2425},
{"m":"E","x":0,"y":40},{"m":"E","x":0.1,"y":95},{"m":"E","x":0.2,"y":200},{"m":"E","x":0.3,"y":400},{"m":"E","x":0.4,"y":655},{"m":"E","x":0.5,"y":960},{"m":"E","x":0.6,"y":1310},{"m":"E","x":0.7,"y":1575},{"m":"E","x":0.8,"y":1690},{"m":"E","x":0.9,"y":1770},{"m":"E","x":1.0,"y":1925},{"m":"E","x":1.1,"y":2115},{"m":"E","x":1.2,"y":2345},{"m":"E","x":1.3,"y":2540},{"m":"E","x":1.4,"y":2640},{"m":"E","x":1.5,"y":2690},{"m":"E","x":1.6,"y":2730},{"m":"E","x":1.7,"y":2810},{"m":"E","x":1.8,"y":3000},{"m":"E","x":1.9,"y":3040},{"m":"E","x":2.0,"y":3075},
{"m":"G","x":0,"y":40},{"m":"G","x":0.1,"y":100},{"m":"G","x":0.2,"y":215},{"m":"G","x":0.3,"y":440},{"m":"G","x":0.4,"y":730},{"m":"G","x":0.5,"y":1040},{"m":"G","x":0.6,"y":1360},{"m":"G","x":0.7,"y":1655},{"m":"G","x":0.8,"y":1925},{"m":"G","x":0.9,"y":2040},{"m":"G","x":1.0,"y":2190},{"m":"G","x":1.1,"y":2345},{"m":"G","x":1.2,"y":2540},{"m":"G","x":1.3,"y":2670},{"m":"G","x":1.4,"y":2810},{"m":"G","x":1.5,"y":2945},{"m":"G","x":1.6,"y":2945},{"m":"G","x":1.7,"y":3040},{"m":"G","x":1.8,"y":3090},{"m":"G","x":1.9,"y":3155},{"m":"G","x":1.95,"y":3115},{"m":"G","x":2.0,"y":3000},
{"m":"A","x":0,"y":0},{"m":"A","x":0.1,"y":25},{"m":"A","x":0.2,"y":75},{"m":"A","x":0.3,"y":190},{"m":"A","x":0.4,"y":345},{"m":"A","x":0.5,"y":475},{"m":"A","x":0.6,"y":615},{"m":"A","x":0.7,"y":730},{"m":"A","x":0.8,"y":825},{"m":"A","x":0.9,"y":900},{"m":"A","x":1.0,"y":1000},{"m":"A","x":1.1,"y":1040},{"m":"A","x":1.2,"y":1055},{"m":"A","x":1.3,"y":1075},{"m":"A","x":1.4,"y":1070},{"m":"A","x":1.5,"y":1070},{"m":"A","x":1.6,"y":1075},{"m":"A","x":1.7,"y":1055},{"m":"A","x":1.8,"y":1060},{"m":"A","x":1.9,"y":1075},{"m":"A","x":2.0,"y":1085},
{"m":"C","x":0,"y":0},{"m":"C","x":0.3,"y":0},{"m":"C","x":0.5,"y":15},{"m":"C","x":0.7,"y":40},{"m":"C","x":0.9,"y":60},{"m":"C","x":1.0,"y":75},{"m":"C","x":1.1,"y":100},{"m":"C","x":1.2,"y":115},{"m":"C","x":1.3,"y":140},{"m":"C","x":1.4,"y":170},{"m":"C","x":1.5,"y":210},{"m":"C","x":1.6,"y":245},{"m":"C","x":1.7,"y":290},{"m":"C","x":1.8,"y":330},{"m":"C","x":1.9,"y":370},{"m":"C","x":2.0,"y":410}
],
"wkb":[
{"m":"S","x":0,"lo":0,"hi":100},{"m":"S","x":0.25,"lo":250,"hi":430},{"m":"S","x":0.5,"lo":950,"hi":1400},{"m":"S","x":0.75,"lo":1700,"hi":2300},{"m":"S","x":1.0,"lo":2000,"hi":2650},{"m":"S","x":1.25,"lo":2350,"hi":2950},{"m":"S","x":1.5,"lo":2650,"hi":3250},{"m":"S","x":1.75,"lo":2750,"hi":3400},{"m":"S","x":2.0,"lo":2750,"hi":3400},
{"m":"G","x":0,"lo":0,"hi":100},{"m":"G","x":0.25,"lo":240,"hi":420},{"m":"G","x":0.5,"lo":800,"hi":1300},{"m":"G","x":0.75,"lo":1450,"hi":2100},{"m":"G","x":1.0,"lo":1850,"hi":2550},{"m":"G","x":1.25,"lo":2200,"hi":2950},{"m":"G","x":1.5,"lo":2550,"hi":3300},{"m":"G","x":1.75,"lo":2700,"hi":3500},{"m":"G","x":2.0,"lo":2600,"hi":3550},
{"m":"E","x":0,"lo":0,"hi":100},{"m":"E","x":0.25,"lo":210,"hi":400},{"m":"E","x":0.5,"lo":700,"hi":1250},{"m":"E","x":0.75,"lo":1300,"hi":2000},{"m":"E","x":1.0,"lo":1550,"hi":2300},{"m":"E","x":1.25,"lo":2000,"hi":2850},{"m":"E","x":1.5,"lo":2250,"hi":3150},{"m":"E","x":1.75,"lo":2500,"hi":3400},{"m":"E","x":2.0,"lo":2650,"hi":3650},
{"m":"W","x":0,"lo":0,"hi":100},{"m":"W","x":0.25,"lo":220,"hi":410},{"m":"W","x":0.5,"lo":800,"hi":1300},{"m":"W","x":0.75,"lo":1250,"hi":1900},{"m":"W","x":1.0,"lo":1400,"hi":2200},{"m":"W","x":1.25,"lo":1650,"hi":2500},{"m":"W","x":1.5,"lo":1750,"hi":2650},{"m":"W","x":1.75,"lo":1850,"hi":2950},{"m":"W","x":2.0,"lo":1800,"hi":3000},
{"m":"T","x":0,"lo":0,"hi":100},{"m":"T","x":0.25,"lo":200,"hi":380},{"m":"T","x":0.5,"lo":600,"hi":1100},{"m":"T","x":0.75,"lo":1100,"hi":1750},{"m":"T","x":1.0,"lo":1250,"hi":2000},{"m":"T","x":1.25,"lo":1650,"hi":2450},{"m":"T","x":1.5,"lo":1950,"hi":2850},{"m":"T","x":1.75,"lo":2050,"hi":2950},{"m":"T","x":2.0,"lo":2250,"hi":3200},
{"m":"A","x":0,"lo":0,"hi":20},{"m":"A","x":0.25,"lo":70,"hi":200},{"m":"A","x":0.5,"lo":350,"hi":620},{"m":"A","x":0.75,"lo":600,"hi":980},{"m":"A","x":1.0,"lo":800,"hi":1250},{"m":"A","x":1.25,"lo":850,"hi":1300},{"m":"A","x":1.5,"lo":850,"hi":1330},{"m":"A","x":1.75,"lo":850,"hi":1300},{"m":"A","x":2.0,"lo":850,"hi":1320},
{"m":"C","x":0,"lo":0,"hi":20},{"m":"C","x":0.25,"lo":0,"hi":20},{"m":"C","x":0.5,"lo":0,"hi":40},{"m":"C","x":0.75,"lo":20,"hi":90},{"m":"C","x":1.0,"lo":40,"hi":120},{"m":"C","x":1.25,"lo":80,"hi":190},{"m":"C","x":1.5,"lo":150,"hi":280},{"m":"C","x":1.75,"lo":240,"hi":390},{"m":"C","x":2.0,"lo":340,"hi":500}
]
},
"vconcat":[
{"vconcat":[
{"hconcat":[
{"width":20,"height":10,"view":{"stroke":"#ffffff","strokeOpacity":0},"data":{"values":[{}]},"mark":{"type":"point","opacity":0},"encoding":{}},
{"title":{"text":"MineWorld","fontWeight":"normal"},"width":217,"height":174,
"encoding":{"x":{"field":"x","type":"quantitative","title":"Env Steps","scale":{"domain":[0,1],"nice":false,"zero":false},"axis":{"values":[0,0.25,0.5,0.75,1],"format":".2f","tickCount":20,"titleFontWeight":"normal"}}},
"layer":[
{"data":{"name":"mwb"},"mark":{"type":"area","opacity":0.12},"encoding":{"y":{"field":"lo","type":"quantitative","title":"Eval Success Rate","scale":{"domain":[-0.02,1.05],"nice":false,"zero":false},"axis":{"values":[-0.02,0.18,0.38,0.58,0.78,0.98],"format":".2f","tickCount":20,"titleFontWeight":"normal"}},"y2":{"field":"hi"},"fill":{"field":"m","type":"nominal","scale":{"domain":["S","T","W","E","C","A","G"],"range":["#4169e1","#72c593","#ef7cba","#f6bd60","#a8562b","#2f8eb0","#ff6666"]},"legend":null}}},
{"data":{"name":"mw"},"transform":[{"filter":{"field":"m","oneOf":["S","T","W","E"]}}],"mark":{"type":"line","strokeWidth":1.6},"encoding":{"y":{"field":"y","type":"quantitative","title":"Eval Success Rate","scale":{"domain":[-0.02,1.05],"nice":false,"zero":false}},"color":{"field":"m","type":"nominal","scale":{"domain":["S","T","W","E"],"range":["#4169e1","#72c593","#ef7cba","#f6bd60"]},"legend":{"orient":"none","legendX":12,"legendY":463,"direction":"horizontal","title":null,"labelExpr":"datum.value == 'S' ? 'SAVO (Ours)' : datum.value == 'T' ? '1-Actor (TD3)' : datum.value == 'W' ? '1-Actor, k-Samples (Wolpertinger)' : 'k-Actors (Ensemble)'"}}}},
{"data":{"name":"mw"},"transform":[{"filter":{"field":"m","oneOf":["C","A","G"]}}],"mark":{"type":"line","strokeWidth":1.6},"encoding":{"y":{"field":"y","type":"quantitative","title":"Eval Success Rate","scale":{"domain":[-0.02,1.05],"nice":false,"zero":false}},"stroke":{"field":"m","type":"nominal","scale":{"domain":["C","A","G"],"range":["#a8562b","#2f8eb0","#ff6666"]},"legend":{"orient":"none","legendX":187,"legendY":502,"direction":"horizontal","title":null,"labelExpr":"datum.value == 'C' ? 'Evolutionary Actor (CEM)' : datum.value == 'A' ? 'Greedy-AC' : 'Greedy-TD3'"}}}},
{"data":{"values":[{"t":"1e7"}]},"mark":{"type":"text","align":"right","baseline":"middle","dy":21,"fontSize":8,"font":"DejaVu Sans","fill":"#000"},"encoding":{"x":{"value":"width"},"y":{"value":"height"},"text":{"field":"t","type":"nominal"}}}
]},
{"title":{"text":"RecSim","fontWeight":"normal"},"width":232,"height":174,
"encoding":{"x":{"field":"x","type":"quantitative","title":"Env Steps","scale":{"domain":[0,1],"nice":false,"zero":false},"axis":{"values":[0,0.25,0.5,0.75,1],"format":".2f","tickCount":20,"titleFontWeight":"normal"}}},
"layer":[
{"data":{"name":"rsb"},"mark":{"type":"area","opacity":0.12},"encoding":{"y":{"field":"lo","type":"quantitative","title":"Eval Return","scale":{"domain":[1.5,6.39],"nice":false,"zero":false},"axis":{"values":[1.5,2.3,3.1,3.9,4.7,5.5,6.3],"format":".1f","tickCount":20,"titleFontWeight":"normal"}},"y2":{"field":"hi"},"fill":{"field":"m","type":"nominal","scale":{"domain":["S","T","W","E","C","A","G"],"range":["#4169e1","#72c593","#ef7cba","#f6bd60","#a8562b","#2f8eb0","#ff6666"]},"legend":null}}},
{"data":{"name":"rs"},"transform":[{"filter":{"field":"m","oneOf":["S","T","W","E"]}}],"mark":{"type":"line","strokeWidth":1.6},"encoding":{"y":{"field":"y","type":"quantitative","title":"Eval Return","scale":{"domain":[1.5,6.39],"nice":false,"zero":false}},"color":{"field":"m","type":"nominal","scale":{"domain":["S","T","W","E"],"range":["#4169e1","#72c593","#ef7cba","#f6bd60"]},"legend":{"orient":"none","legendX":12,"legendY":463,"direction":"horizontal","title":null,"labelExpr":"datum.value == 'S' ? 'SAVO (Ours)' : datum.value == 'T' ? '1-Actor (TD3)' : datum.value == 'W' ? '1-Actor, k-Samples (Wolpertinger)' : 'k-Actors (Ensemble)'"}}}},
{"data":{"name":"rs"},"transform":[{"filter":{"field":"m","oneOf":["C","A","G"]}}],"mark":{"type":"line","strokeWidth":1.6},"encoding":{"y":{"field":"y","type":"quantitative","title":"Eval Return","scale":{"domain":[1.5,6.39],"nice":false,"zero":false}},"stroke":{"field":"m","type":"nominal","scale":{"domain":["C","A","G"],"range":["#a8562b","#2f8eb0","#ff6666"]},"legend":{"orient":"none","legendX":187,"legendY":502,"direction":"horizontal","title":null,"labelExpr":"datum.value == 'C' ? 'Evolutionary Actor (CEM)' : datum.value == 'A' ? 'Greedy-AC' : 'Greedy-TD3'"}}}},
{"data":{"values":[{"t":"1e7"}]},"mark":{"type":"text","align":"right","baseline":"middle","dy":21,"fontSize":8,"font":"DejaVu Sans","fill":"#000"},"encoding":{"x":{"value":"width"},"y":{"value":"height"},"text":{"field":"t","type":"nominal"}}}
]},
{"title":{"text":"RecSim-Data","fontWeight":"normal"},"width":234,"height":174,
"encoding":{"x":{"field":"x","type":"quantitative","title":"Env Steps","scale":{"domain":[0,1],"nice":false,"zero":false},"axis":{"values":[0,0.25,0.5,0.75,1],"format":".2f","tickCount":20,"titleFontWeight":"normal"}}},
"layer":[
{"data":{"name":"rdb"},"mark":{"type":"area","opacity":0.12},"encoding":{"y":{"field":"lo","type":"quantitative","title":"Eval Return","scale":{"domain":[10,59.9],"nice":false,"zero":false},"axis":{"values":[10,19,28,37,46,55],"format":"d","tickCount":20,"titleFontWeight":"normal"}},"y2":{"field":"hi"},"fill":{"field":"m","type":"nominal","scale":{"domain":["S","T","W","E","C","A","G"],"range":["#4169e1","#72c593","#ef7cba","#f6bd60","#a8562b","#2f8eb0","#ff6666"]},"legend":null}}},
{"data":{"name":"rd"},"transform":[{"filter":{"field":"m","oneOf":["S","T","W","E"]}}],"mark":{"type":"line","strokeWidth":1.6},"encoding":{"y":{"field":"y","type":"quantitative","title":"Eval Return","scale":{"domain":[10,59.9],"nice":false,"zero":false}},"color":{"field":"m","type":"nominal","scale":{"domain":["S","T","W","E"],"range":["#4169e1","#72c593","#ef7cba","#f6bd60"]},"legend":{"orient":"none","legendX":12,"legendY":463,"direction":"horizontal","title":null,"labelExpr":"datum.value == 'S' ? 'SAVO (Ours)' : datum.value == 'T' ? '1-Actor (TD3)' : datum.value == 'W' ? '1-Actor, k-Samples (Wolpertinger)' : 'k-Actors (Ensemble)'"}}}},
{"data":{"name":"rd"},"transform":[{"filter":{"field":"m","oneOf":["C","A","G"]}}],"mark":{"type":"line","strokeWidth":1.6},"encoding":{"y":{"field":"y","type":"quantitative","title":"Eval Return","scale":{"domain":[10,59.9],"nice":false,"zero":false}},"stroke":{"field":"m","type":"nominal","scale":{"domain":["C","A","G"],"range":["#a8562b","#2f8eb0","#ff6666"]},"legend":{"orient":"none","legendX":187,"legendY":502,"direction":"horizontal","title":null,"labelExpr":"datum.value == 'C' ? 'Evolutionary Actor (CEM)' : datum.value == 'A' ? 'Greedy-AC' : 'Greedy-TD3'"}}}},
{"data":{"values":[{"t":"1e7"}]},"mark":{"type":"text","align":"right","baseline":"middle","dy":21,"fontSize":8,"font":"DejaVu Sans","fill":"#000"},"encoding":{"x":{"value":"width"},"y":{"value":"height"},"text":{"field":"t","type":"nominal"}}}
]}
],"spacing":27},
{"hconcat":[
{"title":{"text":"Hopper (Restricted)","fontWeight":"normal"},"width":225,"height":173,
"encoding":{"x":{"field":"x","type":"quantitative","title":"Env Steps","scale":{"domain":[0,2],"nice":false,"zero":false},"axis":{"values":[0,0.5,1,1.5,2],"format":".1f","tickCount":20,"titleFontWeight":"normal"}}},
"layer":[
{"data":{"name":"hpb"},"mark":{"type":"area","opacity":0.12},"encoding":{"y":{"field":"lo","type":"quantitative","title":"Eval Return","scale":{"domain":[0,3000],"nice":false,"zero":false},"axis":{"values":[0,600,1200,1800,2400,3000],"format":"d","tickCount":20,"titleFontWeight":"normal"}},"y2":{"field":"hi"},"fill":{"field":"m","type":"nominal","scale":{"domain":["S","T","W","E","C","A","G"],"range":["#4169e1","#72c593","#ef7cba","#f6bd60","#a8562b","#2f8eb0","#ff6666"]},"legend":null}}},
{"data":{"name":"hp"},"transform":[{"filter":{"field":"m","oneOf":["S","T","W","E"]}}],"mark":{"type":"line","strokeWidth":1.6},"encoding":{"y":{"field":"y","type":"quantitative","title":"Eval Return","scale":{"domain":[0,3000],"nice":false,"zero":false}},"color":{"field":"m","type":"nominal","scale":{"domain":["S","T","W","E"],"range":["#4169e1","#72c593","#ef7cba","#f6bd60"]},"legend":{"orient":"none","legendX":12,"legendY":463,"direction":"horizontal","title":null,"labelExpr":"datum.value == 'S' ? 'SAVO (Ours)' : datum.value == 'T' ? '1-Actor (TD3)' : datum.value == 'W' ? '1-Actor, k-Samples (Wolpertinger)' : 'k-Actors (Ensemble)'"}}}},
{"data":{"name":"hp"},"transform":[{"filter":{"field":"m","oneOf":["C","A","G"]}}],"mark":{"type":"line","strokeWidth":1.6},"encoding":{"y":{"field":"y","type":"quantitative","title":"Eval Return","scale":{"domain":[0,3000],"nice":false,"zero":false}},"stroke":{"field":"m","type":"nominal","scale":{"domain":["C","A","G"],"range":["#a8562b","#2f8eb0","#ff6666"]},"legend":{"orient":"none","legendX":187,"legendY":502,"direction":"horizontal","title":null,"labelExpr":"datum.value == 'C' ? 'Evolutionary Actor (CEM)' : datum.value == 'A' ? 'Greedy-AC' : 'Greedy-TD3'"}}}},
{"data":{"values":[{"t":"1e6"}]},"mark":{"type":"text","align":"right","baseline":"middle","dy":21,"fontSize":8,"font":"DejaVu Sans","fill":"#000"},"encoding":{"x":{"value":"width"},"y":{"value":"height"},"text":{"field":"t","type":"nominal"}}}
]},
{"title":{"text":"Inverted Pendulum (Restricted)","fontWeight":"normal"},"width":226,"height":173,
"encoding":{"x":{"field":"x","type":"quantitative","title":"Env Steps","scale":{"domain":[0,2],"nice":false,"zero":false},"axis":{"values":[0,0.5,1,1.5,2],"format":".1f","tickCount":20,"titleFontWeight":"normal"}}},
"layer":[
{"data":{"name":"ipb"},"mark":{"type":"area","opacity":0.12},"encoding":{"y":{"field":"lo","type":"quantitative","title":"Eval Return","scale":{"domain":[0,1046],"nice":false,"zero":false},"axis":{"values":[0,200,400,600,800,1000],"format":"d","tickCount":20,"titleFontWeight":"normal"}},"y2":{"field":"hi"},"fill":{"field":"m","type":"nominal","scale":{"domain":["S","T","W","E","C","A","G"],"range":["#4169e1","#72c593","#ef7cba","#f6bd60","#a8562b","#2f8eb0","#ff6666"]},"legend":null}}},
{"data":{"name":"ip"},"transform":[{"filter":{"field":"m","oneOf":["S","T","W","E"]}}],"mark":{"type":"line","strokeWidth":1.6},"encoding":{"y":{"field":"y","type":"quantitative","title":"Eval Return","scale":{"domain":[0,1046],"nice":false,"zero":false}},"color":{"field":"m","type":"nominal","scale":{"domain":["S","T","W","E"],"range":["#4169e1","#72c593","#ef7cba","#f6bd60"]},"legend":{"orient":"none","legendX":12,"legendY":463,"direction":"horizontal","title":null,"labelExpr":"datum.value == 'S' ? 'SAVO (Ours)' : datum.value == 'T' ? '1-Actor (TD3)' : datum.value == 'W' ? '1-Actor, k-Samples (Wolpertinger)' : 'k-Actors (Ensemble)'"}}}},
{"data":{"name":"ip"},"transform":[{"filter":{"field":"m","oneOf":["C","A","G"]}}],"mark":{"type":"line","strokeWidth":1.6},"encoding":{"y":{"field":"y","type":"quantitative","title":"Eval Return","scale":{"domain":[0,1046],"nice":false,"zero":false}},"stroke":{"field":"m","type":"nominal","scale":{"domain":["C","A","G"],"range":["#a8562b","#2f8eb0","#ff6666"]},"legend":{"orient":"none","legendX":187,"legendY":502,"direction":"horizontal","title":null,"labelExpr":"datum.value == 'C' ? 'Evolutionary Actor (CEM)' : datum.value == 'A' ? 'Greedy-AC' : 'Greedy-TD3'"}}}},
{"data":{"values":[{"t":"1e6"}]},"mark":{"type":"text","align":"right","baseline":"middle","dy":21,"fontSize":8,"font":"DejaVu Sans","fill":"#000"},"encoding":{"x":{"value":"width"},"y":{"value":"height"},"text":{"field":"t","type":"nominal"}}}
]},
{"title":{"text":"Inv. Dbl Pend. (Restricted)","fontWeight":"normal"},"width":219,"height":173,
"encoding":{"x":{"field":"x","type":"quantitative","title":"Env Steps","scale":{"domain":[0,2],"nice":false,"zero":false},"axis":{"values":[0,0.5,1,1.5,2],"format":".1f","tickCount":20,"titleFontWeight":"normal"}}},
"layer":[
{"data":{"name":"idb"},"mark":{"type":"area","opacity":0.12},"encoding":{"y":{"field":"lo","type":"quantitative","title":"Eval Return","scale":{"domain":[0,10000],"nice":false,"zero":false},"axis":{"values":[0,2000,4000,6000,8000,10000],"format":"d","tickCount":20,"titleFontWeight":"normal"}},"y2":{"field":"hi"},"fill":{"field":"m","type":"nominal","scale":{"domain":["S","T","W","E","C","A","G"],"range":["#4169e1","#72c593","#ef7cba","#f6bd60","#a8562b","#2f8eb0","#ff6666"]},"legend":null}}},
{"data":{"name":"id"},"transform":[{"filter":{"field":"m","oneOf":["S","T","W","E"]}}],"mark":{"type":"line","strokeWidth":1.6},"encoding":{"y":{"field":"y","type":"quantitative","title":"Eval Return","scale":{"domain":[0,10000],"nice":false,"zero":false}},"color":{"field":"m","type":"nominal","scale":{"domain":["S","T","W","E"],"range":["#4169e1","#72c593","#ef7cba","#f6bd60"]},"legend":{"orient":"none","legendX":12,"legendY":463,"direction":"horizontal","title":null,"labelExpr":"datum.value == 'S' ? 'SAVO (Ours)' : datum.value == 'T' ? '1-Actor (TD3)' : datum.value == 'W' ? '1-Actor, k-Samples (Wolpertinger)' : 'k-Actors (Ensemble)'"}}}},
{"data":{"name":"id"},"transform":[{"filter":{"field":"m","oneOf":["C","A","G"]}}],"mark":{"type":"line","strokeWidth":1.6},"encoding":{"y":{"field":"y","type":"quantitative","title":"Eval Return","scale":{"domain":[0,10000],"nice":false,"zero":false}},"stroke":{"field":"m","type":"nominal","scale":{"domain":["C","A","G"],"range":["#a8562b","#2f8eb0","#ff6666"]},"legend":{"orient":"none","legendX":187,"legendY":502,"direction":"horizontal","title":null,"labelExpr":"datum.value == 'C' ? 'Evolutionary Actor (CEM)' : datum.value == 'A' ? 'Greedy-AC' : 'Greedy-TD3'"}}}},
{"data":{"values":[{"t":"1e6"}]},"mark":{"type":"text","align":"right","baseline":"middle","dy":21,"fontSize":8,"font":"DejaVu Sans","fill":"#000"},"encoding":{"x":{"value":"width"},"y":{"value":"height"},"text":{"field":"t","type":"nominal"}}}
]},
{"title":{"text":"Walker2D (Restricted)","fontWeight":"normal"},"width":226,"height":173,
"encoding":{"x":{"field":"x","type":"quantitative","title":"Env Steps","scale":{"domain":[0,2],"nice":false,"zero":false},"axis":{"values":[0,0.5,1,1.5,2],"format":".1f","tickCount":20,"titleFontWeight":"normal"}}},
"layer":[
{"data":{"name":"wkb"},"mark":{"type":"area","opacity":0.12},"encoding":{"y":{"field":"lo","type":"quantitative","title":"Eval Return","scale":{"domain":[0,4000],"nice":false,"zero":false},"axis":{"values":[0,800,1600,2400,3200,4000],"format":"d","tickCount":20,"titleFontWeight":"normal"}},"y2":{"field":"hi"},"fill":{"field":"m","type":"nominal","scale":{"domain":["S","T","W","E","C","A","G"],"range":["#4169e1","#72c593","#ef7cba","#f6bd60","#a8562b","#2f8eb0","#ff6666"]},"legend":null}}},
{"data":{"name":"wk"},"transform":[{"filter":{"field":"m","oneOf":["S","T","W","E"]}}],"mark":{"type":"line","strokeWidth":1.6},"encoding":{"y":{"field":"y","type":"quantitative","title":"Eval Return","scale":{"domain":[0,4000],"nice":false,"zero":false}},"color":{"field":"m","type":"nominal","scale":{"domain":["S","T","W","E"],"range":["#4169e1","#72c593","#ef7cba","#f6bd60"]},"legend":{"orient":"none","legendX":12,"legendY":463,"direction":"horizontal","title":null,"labelExpr":"datum.value == 'S' ? 'SAVO (Ours)' : datum.value == 'T' ? '1-Actor (TD3)' : datum.value == 'W' ? '1-Actor, k-Samples (Wolpertinger)' : 'k-Actors (Ensemble)'"}}}},
{"data":{"name":"wk"},"transform":[{"filter":{"field":"m","oneOf":["C","A","G"]}}],"mark":{"type":"line","strokeWidth":1.6},"encoding":{"y":{"field":"y","type":"quantitative","title":"Eval Return","scale":{"domain":[0,4000],"nice":false,"zero":false}},"stroke":{"field":"m","type":"nominal","scale":{"domain":["C","A","G"],"range":["#a8562b","#2f8eb0","#ff6666"]},"legend":{"orient":"none","legendX":187,"legendY":502,"direction":"horizontal","title":null,"labelExpr":"datum.value == 'C' ? 'Evolutionary Actor (CEM)' : datum.value == 'A' ? 'Greedy-AC' : 'Greedy-TD3'"}}}},
{"data":{"values":[{"t":"1e6"}]},"mark":{"type":"text","align":"right","baseline":"middle","dy":21,"fontSize":8,"font":"DejaVu Sans","fill":"#000"},"encoding":{"x":{"value":"width"},"y":{"value":"height"},"text":{"field":"t","type":"nominal"}}}
]}
],"spacing":26}
],"spacing":14},
{"width":1132,"height":84,"view":{"stroke":"#000","strokeWidth":1.2,"cornerRadius":40},"data":{"values":[{}]},"mark":{"type":"point","opacity":0},"encoding":{}}
],
"spacing":13,
"config":{
"font":"DejaVu Sans",
"view":{"stroke":"#000","strokeWidth":1},
"axis":{"domain":false,"grid":true,"gridColor":"#b0b0b0","gridDash":[3,2],"gridWidth":0.8,"tickColor":"#000","tickSize":3.5,"tickWidth":0.8,"labelFont":"DejaVu Sans","labelFontSize":10,"labelColor":"#000","labelPadding":2,"labelFlush":false,"labelOverlap":false,"titleFont":"DejaVu Sans","titleFontSize":13.5,"titleFontWeight":"normal","titleColor":"#000"},
"axisX":{"titlePadding":1},
"axisY":{"titlePadding":3},
"title":{"font":"DejaVu Sans","fontSize":13,"fontWeight":"normal","color":"#000","offset":4},
"style":{"group-title":{"fontWeight":"normal","fontSize":13},"guide-title":{"fontWeight":"normal"}},
"legend":{"symbolType":"stroke","symbolSize":1936,"symbolStrokeWidth":8,"symbolOpacity":1,"labelFont":"Open Sans","labelFontSize":21,"labelColor":"#111","labelLimit":600,"labelOffset":10,"columnPadding":9,"padding":0}
}
}
